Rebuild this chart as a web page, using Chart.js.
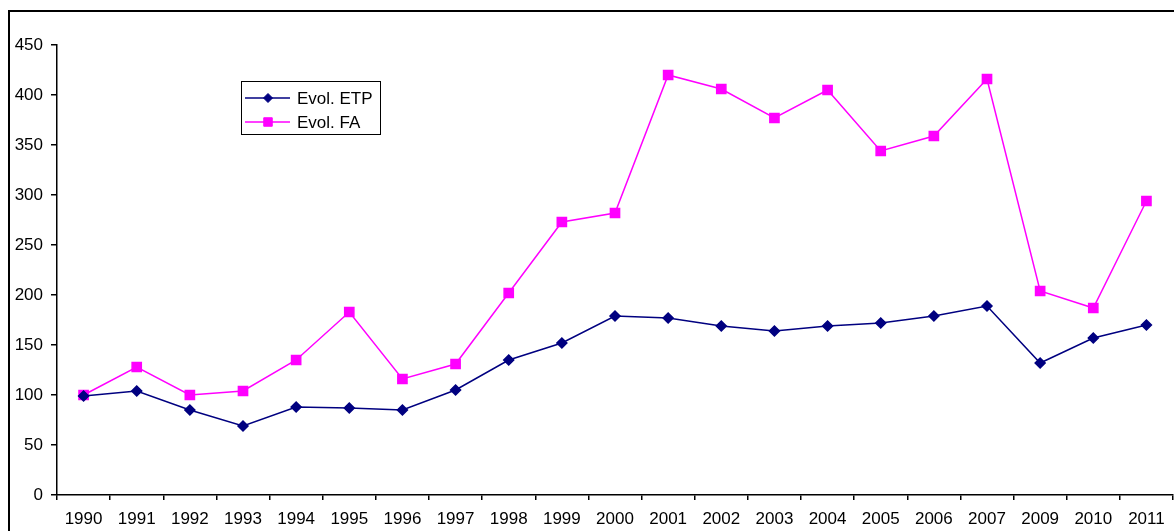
<!DOCTYPE html>
<html>
<head>
  <meta charset="UTF-8">
  <title>Evol. ETP / Evol. FA</title>
  <script src="https://cdn.jsdelivr.net/npm/chart.js"></script>
  <style>
    html, body {
      margin: 0;
      padding: 0;
      background: #fff;
      overflow: hidden;
    }
    #wrap {
      position: relative;
      width: 1174px;
      height: 531px;
    }
    #cadre {
      position: absolute;
      left: 8px;
      top: 10px;
      width: 1200px;
      height: 600px;
      border-left: 2px solid #000;
      border-top: 2px solid #000;
    }
  </style>
</head>
<body>
  <div id="wrap">
    <div id="cadre"></div>
    <canvas id="grafico" width="1174" height="531"></canvas>
  </div>

  <script>
    const annees = ["1990", "1991", "1992", "1993", "1994", "1995", "1996", "1997", "1998", "1999", "2000",
                    "2001", "2002", "2003", "2004", "2005", "2006", "2007", "2009", "2010", "2011"];
    const evolETP = [99, 104, 85, 69, 88, 87, 85, 105, 135, 152, 179, 177, 169, 164, 169, 172, 179, 189, 132, 157, 170];
    const evolFA = [100, 128, 100, 104, 135, 183, 116, 131, 202, 273, 282, 420, 406, 377, 405, 344, 359, 416, 204, 187, 294];
    const ticksY = [0, 50, 100, 150, 200, 250, 300, 350, 400, 450];

    const police = "Arial, 'Liberation Sans', sans-serif";

    // legende dessinee a la main, dans un cadre comme dans Excel
    const legendeCadre = {
      id: 'legendeCadre',
      afterDraw(chart) {
        const ctx = chart.ctx;
        const x = 241, y = 81, w = 139, h = 53;
        ctx.save();
        ctx.fillStyle = '#fff';
        ctx.fillRect(x, y, w, h);
        ctx.strokeStyle = '#000';
        ctx.lineWidth = 1;
        ctx.strokeRect(x + 0.5, y + 0.5, w, h);
        chart.data.datasets.forEach((ds, i) => {
          const ly = y + 17 + i * 24;
          ctx.strokeStyle = ds.borderColor;
          ctx.lineWidth = 1.5;
          ctx.beginPath();
          ctx.moveTo(245, ly);
          ctx.lineTo(290, ly);
          ctx.stroke();
          ctx.fillStyle = ds.pointBackgroundColor;
          ctx.strokeStyle = ds.pointBorderColor;
          ctx.lineWidth = 1;
          Chart.helpers.drawPoint(ctx, {
            pointStyle: ds.pointStyle,
            radius: ds.pointRadius - 0.5,
            borderWidth: 1
          }, 268, ly);
          ctx.fillStyle = '#000';
          ctx.font = '17px ' + police;
          ctx.textBaseline = 'middle';
          ctx.textAlign = 'left';
          ctx.fillText(ds.label, 297, ly + 1);
        });
        ctx.restore();
      }
    };

    const ctx = document.getElementById("grafico").getContext("2d");
    const grafico = new Chart(ctx, {
      type: 'line',
      data: {
        labels: annees,
        datasets: [{
          label: 'Evol. ETP',
          data: evolETP,
          borderColor: '#000080',
          backgroundColor: '#000080',
          pointBackgroundColor: '#000080',
          pointBorderColor: '#000080',
          pointStyle: 'rectRot',
          pointRadius: 5,
          borderWidth: 1.5,
          tension: 0
        }, {
          label: 'Evol. FA',
          data: evolFA,
          borderColor: '#FF00FF',
          backgroundColor: '#FF00FF',
          pointBackgroundColor: '#FF00FF',
          pointBorderColor: '#FF00FF',
          pointStyle: 'rect',
          pointRadius: 6.5,
          borderWidth: 1.5,
          tension: 0
        }]
      },
      options: {
        responsive: false,
        animation: false,
        layout: {
          autoPadding: false,
          padding: { top: 45, right: 1, left: 0, bottom: 0 }
        },
        plugins: {
          legend: { display: false },
          tooltip: { enabled: false }
        },
        scales: {
          x: {
            offset: true,
            grid: {
              display: true,
              offset: true,
              drawOnChartArea: false,
              drawTicks: true,
              tickLength: 5,
              color: '#000',
              lineWidth: 1.5
            },
            border: { display: true, color: '#000', width: 1.5 },
            ticks: {
              color: '#000',
              font: { family: police, size: 17 },
              padding: 9,
              maxRotation: 0,
              autoSkip: false
            },
            afterFit(scale) {
              scale.height = 36;
              scale.paddingLeft = 0;
              scale.paddingRight = 0;
            }
          },
          y: {
            min: 0,
            max: 450,
            grid: {
              display: true,
              drawOnChartArea: false,
              drawTicks: true,
              tickLength: 6,
              color: '#000',
              lineWidth: 1.5
            },
            border: { display: true, color: '#000', width: 1.5 },
            afterBuildTicks(scale) {
              scale.ticks = ticksY.map(v => ({ value: v }));
            },
            ticks: {
              color: '#000',
              font: { family: police, size: 17 },
              padding: 8
            },
            afterFit(scale) { scale.width = 57; }
          }
        }
      },
      plugins: [legendeCadre]
    });
  </script>
</body>
</html>
